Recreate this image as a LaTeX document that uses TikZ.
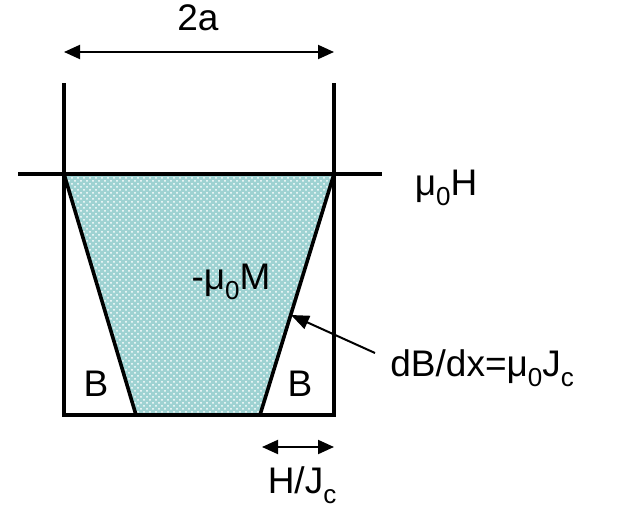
\documentclass[tikz,border=0pt]{standalone}
\usepackage{fontspec}
\setmainfont{Liberation Sans}
\usepackage{tikz}
\usetikzlibrary{arrows.meta,positioning,patterns}
\definecolor{fluxteal}{RGB}{158,210,210}
\definecolor{edgeteal}{RGB}{90,160,160}
\tikzstyle{wall}=[line width=1.8pt,draw=black]
\tikzstyle{dim}=[{Triangle[length=8pt,width=7pt]}-{Triangle[length=8pt,width=7pt]},line width=1pt]
\tikzstyle{pointer}=[-{Triangle[length=9pt,width=7pt]},line width=1pt]
\tikzstyle{lbl}=[inner sep=0pt,font=\fontsize{18.5}{22}\selectfont]
\newcommand{\lowidx}[1]{\raisebox{-0.5ex}{\fontsize{13}{13}\selectfont #1}}

\begin{document}
\begin{tikzpicture}[x=0.5pt,y=-0.5pt]
      \useasboundingbox (0,0) rectangle (617,514);
      % corners of the slab and the flux front
      \coordinate (tl) at (64,174);
      \coordinate (tr) at (334,174);
      \coordinate (bl) at (64,415);
      \coordinate (br) at (334,415);
      \coordinate (fl) at (136,415);
      \coordinate (fr) at (260,415);

      \fill[fluxteal] (tl)--(tr)--(fr)--(fl)--cycle;
      \fill[pattern=crosshatch dots,pattern color=white] (tl)--(tr)--(fr)--(fl)--cycle;
      \draw[edgeteal,line width=1pt] (tl)--(tr);

      \draw[wall] (64,83)--(bl)--(br)--(334,83);
      \coordinate (hl) at (18,174);
      \coordinate (hr) at (382,174);
      \draw[wall] (hl)--(hr);
      \draw[wall] (tl)--(fl);
      \draw[wall] (tr)--(fr);

      % width 2a
      \coordinate (wl) at (64,52);
      \coordinate (wr) at (334,52);
      \draw[dim] (wl)--(wr);
      \node[lbl] (width) at (198,18) {2a};

      \node[lbl] (field) at (446,188) {μ\lowidx{0}H};
      \node[lbl] (magn) at (231,282) {-μ\lowidx{0}M};
      \node[lbl] (bleft) at (96,384) {B};
      \node[lbl] (bright) at (300,384) {B};

      % slope
      \node[lbl,anchor=west] (slope) at (390,368) {dB/dx=μ\lowidx{0}J\lowidx{c}};
      \coordinate (slopetip) at (291,315);
      \draw[pointer] (375,353)--(slopetip);

      % penetration depth
      \coordinate (pl) at (262,447);
      \coordinate (pr) at (334,447);
      \draw[dim] (pl)--(pr);
      \node[lbl] (depth) at (302,485) {H/J\lowidx{c}};
    \end{tikzpicture}
\end{document}
